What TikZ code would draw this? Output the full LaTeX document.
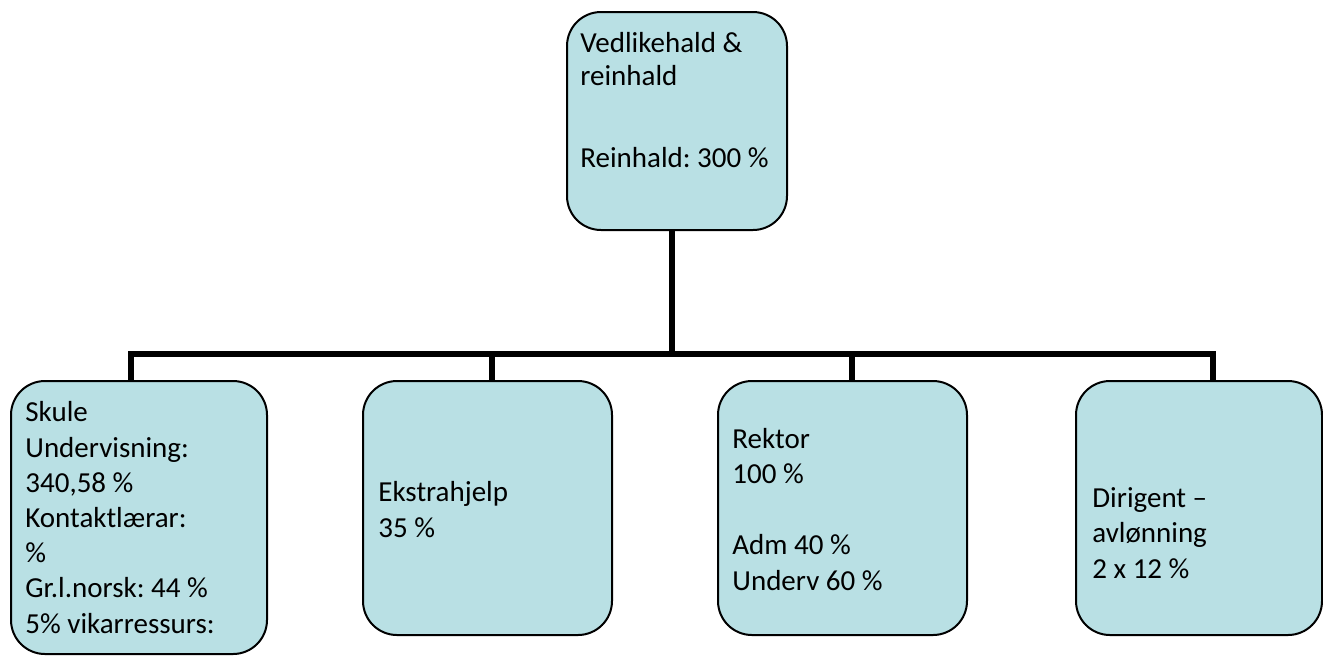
\documentclass[tikz,border=0pt]{standalone}
\usepackage{fontspec}
\setmainfont{Carlito}
\usetikzlibrary{positioning}
\definecolor{boxblue}{RGB}{185,224,228}
\frenchspacing

\tikzset{
  orgbox/.style={draw=black, line width=1pt, fill=boxblue, rounded corners=17pt, inner sep=0pt},
  % base = grunnlinja til siste lina
  boxtext/.style={anchor=base west, align=left, inner sep=0pt, font=\fontsize{14.5}{17.6}\selectfont},
  bar/.style={line width=3pt},
}

\begin{document}
\begin{tikzpicture}[x=0.5pt,y=-0.5pt]
    \useasboundingbox (0,0) rectangle (1323,655);

    % Boksane
    \node[orgbox, minimum width=110pt, minimum height=109pt] (vedlikehald) at (677,121) {};
    \node[orgbox, minimum width=128pt, minimum height=136.5pt] (skule) at (139,517.5) {};
    \node[orgbox, minimum width=124.5pt, minimum height=127pt] (ekstra) at (487.5,508) {};
    \node[orgbox, minimum width=124.5pt, minimum height=127pt] (rektor) at (842.5,508) {};
    \node[orgbox, minimum width=123pt, minimum height=127pt] (dirigent) at (1199,508) {};

    % Tekst i boksane
    \node[boxtext, font=\fontsize{14.5}{16.5}\selectfont] (tvedl) at (580,167) {Vedlikehald \&\\reinhald\\[24.5pt]Reinhald: 300 \%};
    \node[boxtext] (tskule) at (25,633) {Skule\\Undervisning:\\340,58 \%\\Kontaktlærar:\\\%\\Gr.l.norsk: 44 \%\\5\% vikarressurs:};
    \node[boxtext] (tekstra) at (378,537) {Ekstrahjelp\\35 \%};
    \node[boxtext] (trektor) at (732,590) {Rektor\\100 \%\\[17.9pt]Adm 40 \%\\Underv 60 \%};
    \node[boxtext] (tdirigent) at (1092,578) {Dirigent --\\avlønning\\2 x 12 \%};

    % Linjer
    \coordinate (t) at (672,354);
    \coordinate (d1) at (131,354);
    \coordinate (d2) at (492,354);
    \coordinate (d3) at (852,354);
    \coordinate (d4) at (1213,354);
    \draw[bar] (vedlikehald.south -| t) -- (t);
    \draw[bar] (skule.north -| d1) -- (d1) -- (d4) -- (dirigent.north -| d4);
    \draw[bar] (d2) -- (ekstra.north -| d2);
    \draw[bar] (d3) -- (rektor.north -| d3);
\end{tikzpicture}
\end{document}
